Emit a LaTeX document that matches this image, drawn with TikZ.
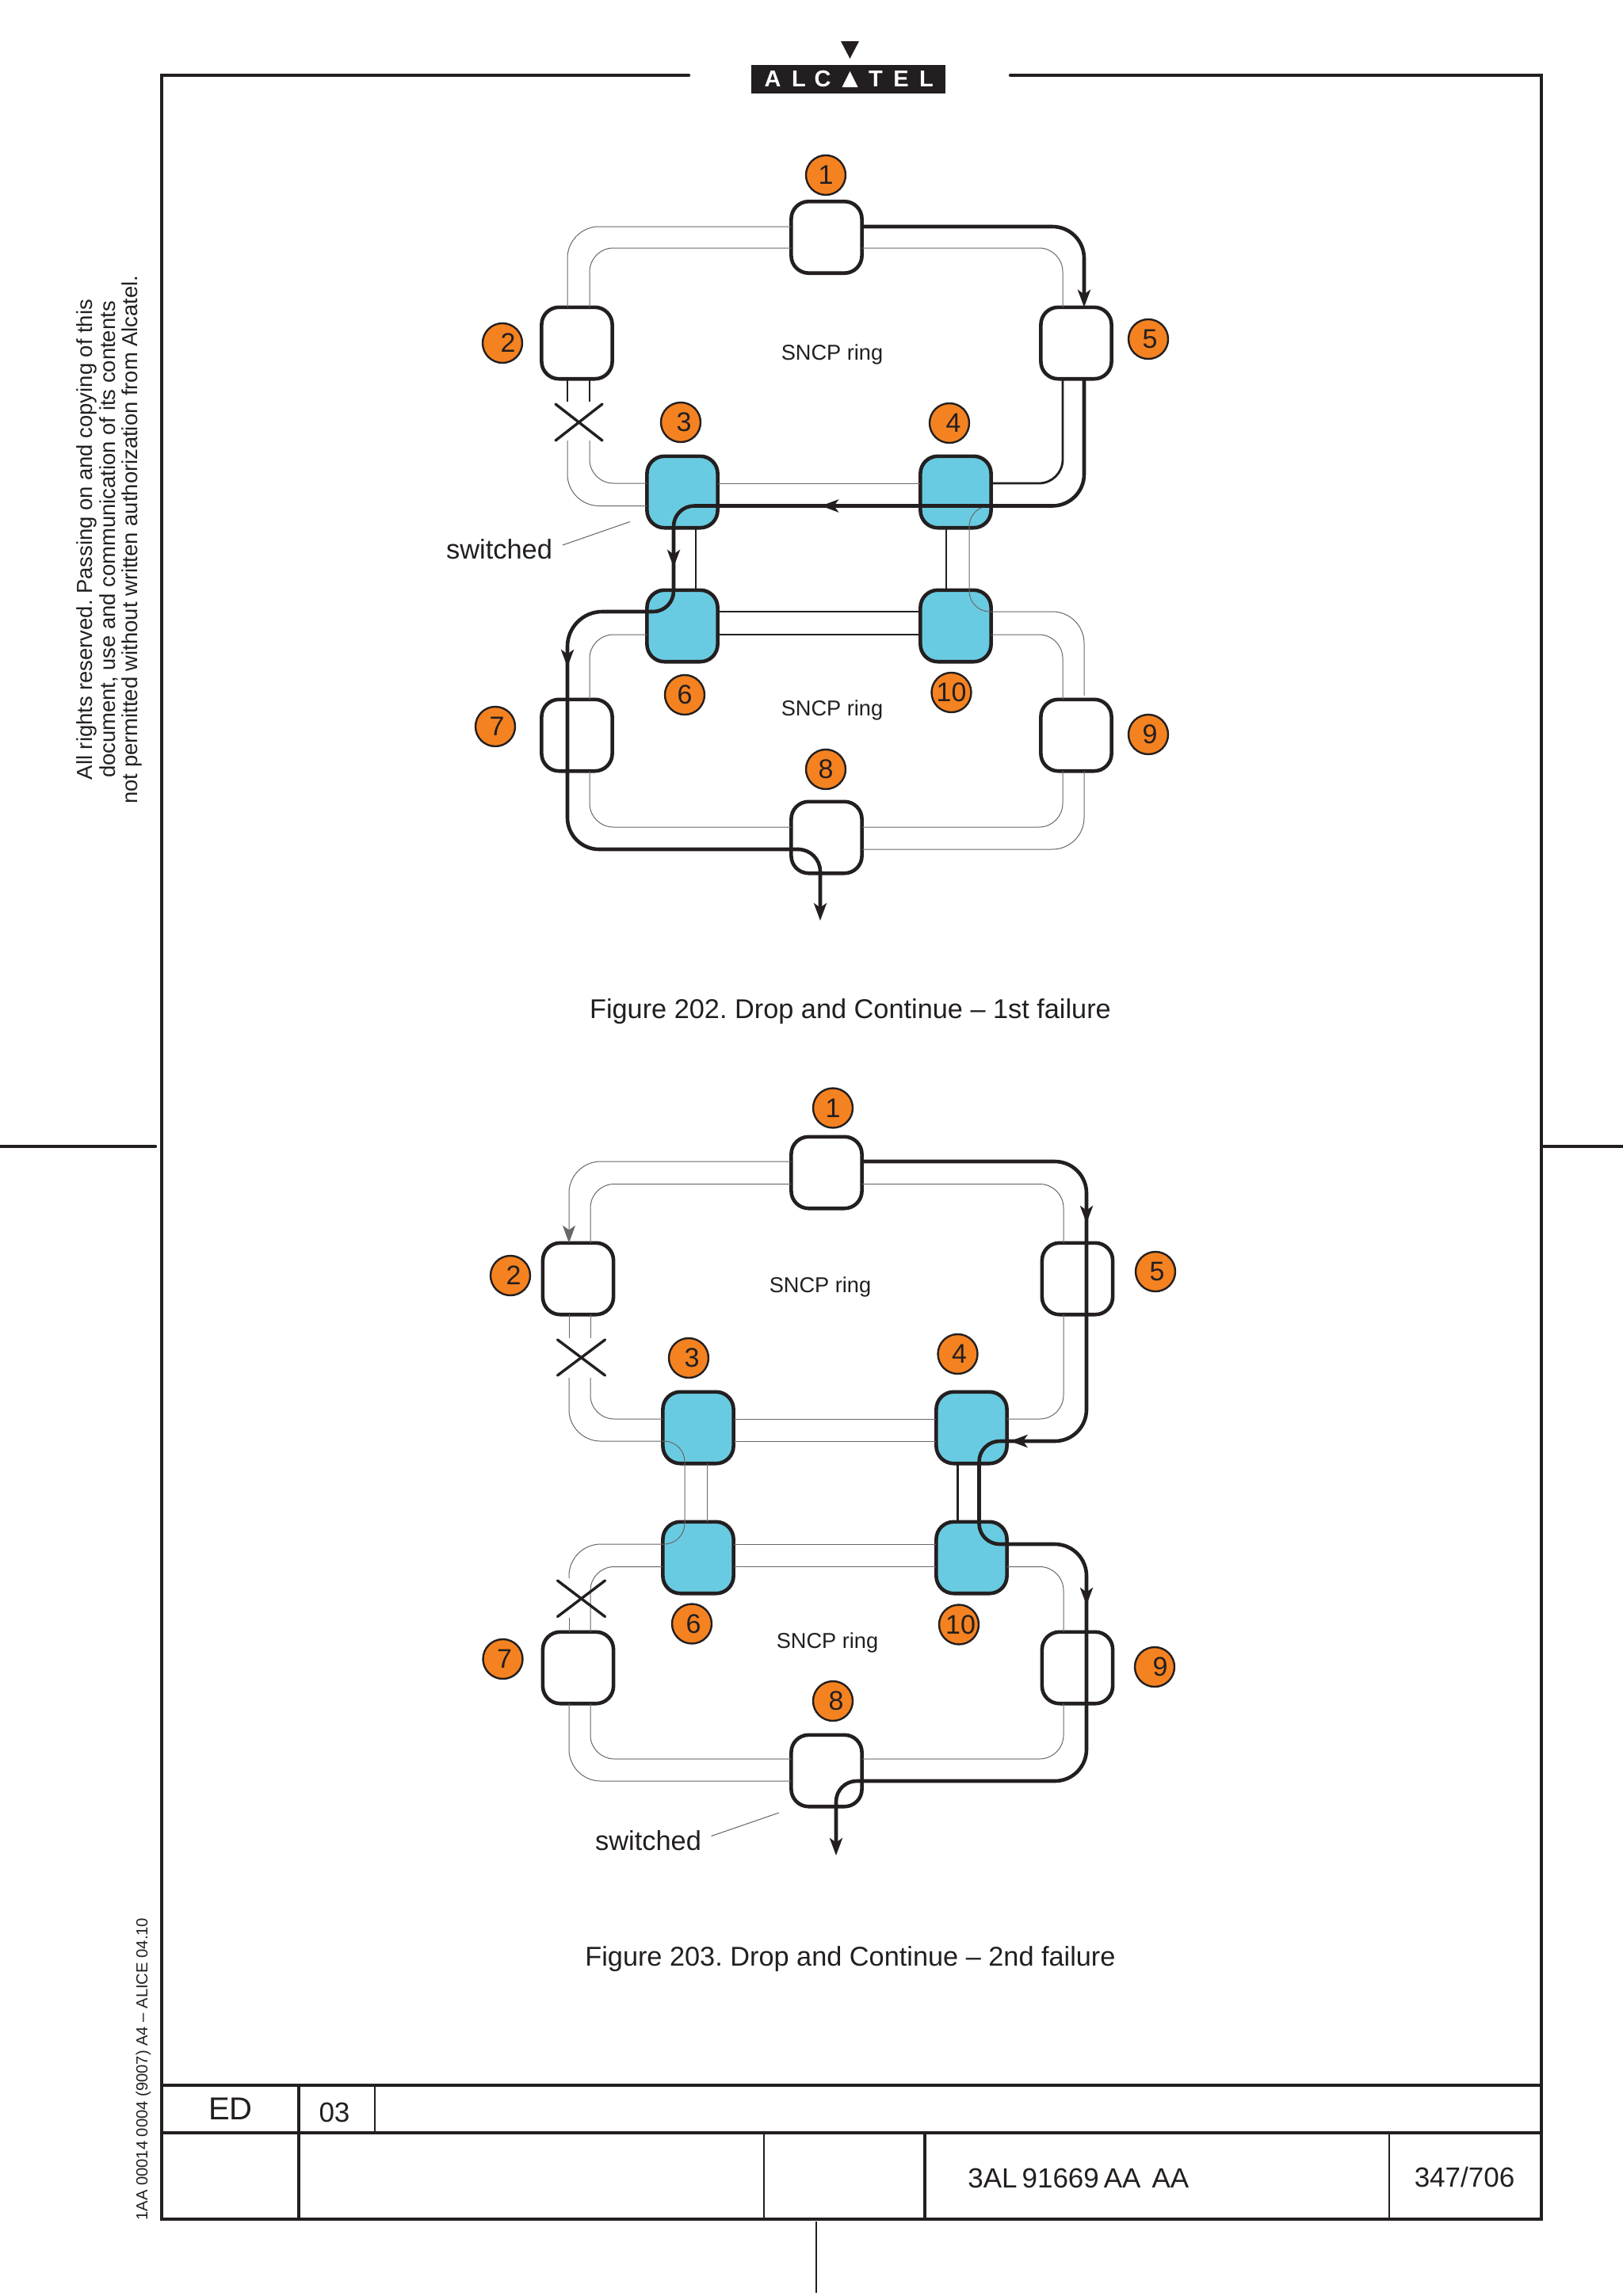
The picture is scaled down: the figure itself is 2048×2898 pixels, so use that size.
\documentclass[tikz,border=0pt]{standalone}
\usepackage{fontspec}
\setmainfont{Liberation Sans}
\usetikzlibrary{arrows.meta}
\definecolor{ink}{HTML}{231F20}
\definecolor{badgeorange}{HTML}{F58220}
\definecolor{nodeblue}{HTML}{69CBE1}
\frenchspacing
\tikzset{
  box/.style={draw=ink,line width=2.3pt,rounded corners=11pt,minimum width=44.6pt,minimum height=45.2pt,outer sep=0pt,inner sep=0pt,fill=white},
  bluebox/.style={box,fill=nodeblue},
  badge/.style={circle,draw=ink,line width=1.2pt,fill=badgeorange,minimum size=25pt,inner sep=0pt,text=ink,font=\fontsize{17}{19}\selectfont},
  thinl/.style={draw=ink!68,line width=0.5pt},
  medl/.style={draw=ink,line width=1.4pt},
  thickl/.style={draw=ink,line width=2.3pt},
  cont/.style={shorten <=-7pt},
  bigtip/.style={-{Stealth[length=11pt,width=8pt,inset=2.8pt]}},
  smalltip/.style={-{Stealth[length=11pt,width=8pt,inset=2.8pt]}},
  rr/.style={rounded corners=20pt},
  ri/.style={rounded corners=15pt},
  rs/.style={rounded corners=13pt},
  framel/.style={draw=ink,line width=2.2pt,line cap=round},
  cellthick/.style={draw=ink,line width=1.6pt},
  cellthin/.style={draw=ink,line width=0.8pt},
  ringlabel/.style={text=ink,font=\fontsize{13.6}{15}\selectfont},
  switchedlabel/.style={text=ink,font=\fontsize{17.2}{19}\selectfont},
  caption/.style={text=ink,font=\fontsize{17.15}{19}\selectfont},
  celltext/.style={text=ink,font=\fontsize{17.5}{19}\selectfont},
  logoletter/.style={text=white,font=\fontsize{14.5}{16}\bfseries\selectfont,inner sep=0pt},
  crossl/.style={draw=ink,line width=1.7pt,line cap=round},
  leaderl/.style={draw=ink!70,line width=0.5pt},
}
\begin{document}
\begin{tikzpicture}[x=0.5pt,y=-0.5pt]
\useasboundingbox (0,0) rectangle (2048,2898);
\fill[white] (0,0) rectangle (2048,2898);

% frame
\coordinate (ftl) at (204,95); \coordinate (ftr) at (1945,95);
\coordinate (fbl) at (204,2801); \coordinate (fbr) at (1945,2801);
\coordinate (tl) at (869,95); \coordinate (tr) at (1275,95);
\draw[framel] (tl) -- (ftl) -- (fbl) -- (fbr) -- (ftr) -- (tr);
\draw[framel] (0,1447) -- (196,1447);
\draw[framel] (1948,1447) -- (2048,1447);
\draw[framel] (204,2632) -- (1945,2632);
\draw[framel] (204,2692) -- (1945,2692);
\draw[cellthick] (377,2632) -- (377,2801);
\draw[cellthin] (473,2632) -- (473,2692);
\draw[cellthin] (964,2692) -- (964,2801);
\draw[cellthick] (1167,2692) -- (1167,2801);
\draw[cellthin] (1753,2692) -- (1753,2801);
\draw[cellthin] (1030,2804) -- (1030,2894);
\node[celltext,font=\fontsize{20}{22}\selectfont] (ed) at (291,2662) {ED};
\node[celltext] (edn) at (422,2666) {03};
\node[celltext,anchor=west,inner sep=0pt] (docn) at (1221,2749) {3AL\hspace{0.17em}91669\hspace{0.17em}AA\hspace{0.4em}AA};
\node[celltext] (page) at (1848,2748) {347/706};

% logo
\fill[ink] (948,82) rectangle (1193,118);
\fill[ink] (1061,52) -- (1084,52) -- (1072.5,74) -- cycle;
\fill[white] (1072.5,90) -- (1082.5,110) -- (1062.5,110) -- cycle;
\node[logoletter] (la) at (975,100) {A};
\node[logoletter] (ll) at (1008,100) {L};
\node[logoletter] (lc) at (1038,100) {C};
\node[logoletter] (lt) at (1105,100) {T};
\node[logoletter] (le) at (1137,100) {E};
\node[logoletter] (lm) at (1169,100) {L};

% side texts
\node[rotate=90,align=center,text=ink,font=\fontsize{13.7}{14.25}\selectfont] (legal) at (138,681)
 {All rights reserved. Passing on and copying of this\\document, use and communication of its contents\\not permitted without written authorization from Alcatel.};
\node[rotate=90,anchor=west,inner sep=0pt,text=ink,font=\fontsize{10.1}{11}\selectfont] (code) at (181,2803)
 {1AA 00014 0004 (9007) A4 – ALICE 04.10};

% ===== Figure 202 =====
\node[box] (a1) at (1043,299.5) {};
\node[box] (a2) at (728,433) {};
\node[box] (a5) at (1358,433) {};
\node[bluebox] (a3) at (861,621) {};
\node[bluebox] (a4) at (1206,621) {};
\node[bluebox] (a6) at (861,790) {};
\node[bluebox] (a10) at (1206,790) {};
\node[box] (a7) at (728,928) {};
\node[box] (a9) at (1358,928) {};
\node[box] (a8) at (1043,1057) {};
\foreach \n/\x/\y/\t/\d in {c1/1042/221/1/0,c2/634/433/2/7,c5/1449/428/5/2,c3/859/533/3/4,c4/1198/534/4/5,c6/864/877/6/0,c10/1200.5/874/10/0,c7/625/917/7/2,c9/1449/927/9/2,c8/1042/971/8/0}
  \node[badge] (a\n) at (\x,\y) {\hspace*{\d pt}\t};
\node[ringlabel] (ar1) at (1050,447) {SNCP ring};
\node[ringlabel] (ar2) at (1050,896) {SNCP ring};
\node[switchedlabel] (asw) at (630,693) {switched};
\node[caption] (acap) at (1073,1277) {Figure 202. Drop and Continue – 1st failure};
\coordinate (aleadA) at (710,688); \coordinate (aleadB) at (795,658.5);
\draw[leaderl] (aleadA) -- (aleadB);
% thin rails
\draw[thinl,rr] (a1.west |- 0,286) -- (716,286) -- (a2.north -| 716,0);
\draw[thinl,ri] (a1.west |- 0,313) -- (744,313) -- (a2.north -| 744,0);
\draw[thinl,ri] (a1.east |- 0,313) -- (1341,313) -- (a5.north -| 1341,0);
\coordinate (ax1) at (716,556); \coordinate (ax2) at (744,556);
\draw[thinl,rr] (ax1) -- (716,638.5) -- (a3.west |- 0,638.5);
\draw[thinl,ri] (ax2) -- (744,610) -- (a3.west |- 0,610);
\draw[thinl] (a3.east |- 0,610) -- (a4.west |- 0,610);
\draw[thinl,rs] (a4.east |- 0,638.5) -- (1223,638.5) -- (1223,772) -- (a10.east |- 0,772);
\draw[thinl,rr] (a10.east |- 0,772) -- (1368,772) -- (1368,878);
\draw[thinl,ri] (a10.east |- 0,801) -- (1341,801) -- (a9.north -| 1341,0);
\draw[thinl,ri] (a6.west |- 0,801) -- (744,801) -- (a7.north -| 744,0);
\draw[thinl,ri] (a7.south -| 744,0) -- (744,1044) -- (a8.west |- 0,1044);
\draw[thinl,ri] (a9.south -| 1341,0) -- (1341,1044) -- (a8.east |- 0,1044);
\draw[thinl,rr] (a9.south -| 1368,0) -- (1368,1072) -- (a8.east |- 0,1072);
% medium rails
\draw[medl] (a2.south -| 716,0) -- (716,507);
\draw[medl] (a2.south -| 744,0) -- (744,507);
\draw[medl,ri] (a5.south -| 1341,0) -- (1341,610) -- (a4.east |- 0,610);
\draw[medl] (a3.south -| 878,0) -- (a6.north -| 878,0);
\draw[medl] (a4.south -| 1194,0) -- (a10.north -| 1194,0);
\draw[medl] (a6.east |- 0,772) -- (a10.west |- 0,772);
\draw[medl] (a6.east |- 0,801) -- (a10.west |- 0,801);
% cross
\coordinate (axa) at (701,510); \coordinate (axb) at (760,556);
\coordinate (axc) at (760,510); \coordinate (axd) at (701,556);
\draw[crossl] (axa) -- (axb); \draw[crossl] (axc) -- (axd);
% protected traffic
\coordinate (atip1) at (1036,638.5); \coordinate (atip2) at (850,716); \coordinate (atip3) at (716,842); \coordinate (adrop) at (1035,1162);
\draw[thickl,bigtip,rr] (a1.east |- 0,286) -- (1368,286) -- (a5.north -| 1368,0);
\draw[thickl,smalltip,rr] (a5.south -| 1368,0) -- (1368,638.5) -- (atip1);
\draw[thickl,smalltip,rs,cont] (atip1) -- (850,638.5) -- (atip2);
\draw[thickl,rs,cont] (atip2) -- (850,772) -- (765,772);
\draw[thickl,smalltip,rounded corners=22pt] (765,772) -- (716,772) -- (atip3);
\draw[thickl,rr,cont] (atip3) -- (716,1072) -- (1008,1072);
\draw[thickl,bigtip,rounded corners=14pt] (1008,1072) -- (1035,1072) -- (adrop);

% ===== Figure 203 =====
\node[box] (b1) at (1043,1480) {};
\node[box] (b2) at (729.5,1614) {};
\node[box] (b5) at (1359.5,1614) {};
\node[bluebox] (b3) at (881,1802) {};
\node[bluebox] (b4) at (1226,1802) {};
\node[bluebox] (b6) at (881,1966) {};
\node[bluebox] (b10) at (1226,1966) {};
\node[box] (b7) at (729.5,2105) {};
\node[box] (b9) at (1359.5,2105) {};
\node[box] (b8) at (1043,2235) {};
\foreach \n/\x/\y/\t/\d in {c1/1051/1398.5/1/0,c2/644/1610/2/4,c5/1458/1605/5/2,c3/869/1714/3/4,c4/1208.5/1709/4/2,c6/873/2049.5/6/2,c10/1210/2050.5/10/2,c7/634.5/2094/7/2,c9/1457/2104/9/7,c8/1051/2147/8/4}
  \node[badge] (b\n) at (\x,\y) {\hspace*{\d pt}\t};
\node[ringlabel] (br1) at (1035,1624) {SNCP ring};
\node[ringlabel] (br2) at (1044,2073) {SNCP ring};
\node[switchedlabel] (bsw) at (818,2323) {switched};
\node[caption] (bcap) at (1073,2473) {Figure 203. Drop and Continue – 2nd failure};
\coordinate (bleadA) at (897.5,2317.5); \coordinate (bleadB) at (983,2288);
\draw[leaderl] (bleadA) -- (bleadB);
% thin rails, upper ring
\draw[thinl,rr,smalltip] (b1.west |- 0,1466) -- (718,1466) -- (b2.north -| 718,0);
\draw[thinl,ri] (b1.west |- 0,1494.5) -- (745,1494.5) -- (b2.north -| 745,0);
\draw[thinl,ri] (b1.east |- 0,1494.5) -- (1342,1494.5) -- (b5.north -| 1342,0);
\draw[thinl] (b2.south -| 718,0) -- (718,1689);
\draw[thinl] (b2.south -| 745,0) -- (745,1689);
\draw[thinl,rr] (718,1739) -- (718,1819) -- (b3.west |- 0,1819);
\draw[thinl,ri] (745,1739) -- (745,1791) -- (b3.west |- 0,1791);
\draw[thinl] (b3.east |- 0,1791) -- (b4.west |- 0,1791);
\draw[thinl] (b3.east |- 0,1819) -- (b4.west |- 0,1819);
\draw[thinl,ri] (b5.south -| 1342,0) -- (1342,1791) -- (b4.east |- 0,1791);
\draw[thinl,rs] (b3.west |- 0,1819) -- (864,1819) -- (864,1949) -- (b6.west |- 0,1949);
\draw[thinl] (b3.south -| 892,0) -- (b6.north -| 892,0);
% thin rails, lower ring
\draw[thinl,rr] (b6.west |- 0,1949) -- (718,1949) -- (718,1992);
\draw[thinl,ri] (b6.west |- 0,1977.5) -- (745,1977.5) -- (b7.north -| 745,0);
\draw[thinl] (718,2042) -- (b7.north -| 718,0);
\draw[thinl] (b6.east |- 0,1949) -- (b10.west |- 0,1949);
\draw[thinl] (b6.east |- 0,1977.5) -- (b10.west |- 0,1977.5);
\draw[thinl,ri] (b10.east |- 0,1977.5) -- (1342,1977.5) -- (b9.north -| 1342,0);
\draw[thinl,rr] (b7.south -| 718,0) -- (718,2248) -- (b8.west |- 0,2248);
\draw[thinl,ri] (b7.south -| 745,0) -- (745,2220) -- (b8.west |- 0,2220);
\draw[thinl,ri] (b9.south -| 1342,0) -- (1342,2220) -- (b8.east |- 0,2220);
% medium
\draw[medl] (b4.south -| 1208.5,0) -- (b10.north -| 1208.5,0);
% crosses
\coordinate (bxa) at (703.5,1691); \coordinate (bxb) at (763.5,1736);
\coordinate (bxc) at (763.5,1691); \coordinate (bxd) at (703.5,1736);
\draw[crossl] (bxa) -- (bxb); \draw[crossl] (bxc) -- (bxd);
\coordinate (bya) at (703.5,1995); \coordinate (byb) at (763.5,2040.5);
\coordinate (byc) at (763.5,1995); \coordinate (byd) at (703.5,2040.5);
\draw[crossl] (bya) -- (byb); \draw[crossl] (byc) -- (byd);
% protected traffic
\coordinate (btip1) at (1371,1544); \coordinate (btip2) at (1274.5,1819);
\coordinate (btip3) at (1371,2026); \coordinate (bdrop) at (1055,2342);
\draw[thickl,smalltip,rr] (b1.east |- 0,1466) -- (1371,1466) -- (btip1);
\draw[thickl,smalltip,rr,cont] (btip1) -- (1371,1819) -- (btip2);
\draw[thickl,rs,cont] (btip2) -- (1235.5,1819) -- (1235.5,1890);
\draw[thickl,rs] (1235.5,1890) -- (1235.5,1949) -- (1320,1949);
\draw[thickl,smalltip,rr] (1320,1949) -- (1371,1949) -- (btip3);
\draw[thickl,rr,cont] (btip3) -- (1371,2248) -- (1085,2248);
\draw[thickl,bigtip,rs] (1085,2248) -- (1055,2248) -- (bdrop);
\end{tikzpicture}
\end{document}
